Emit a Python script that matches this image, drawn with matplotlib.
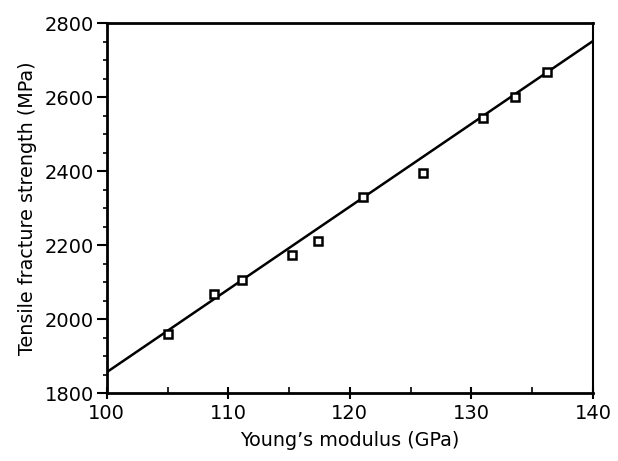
"""Tensile fracture strength vs Young's modulus."""

import matplotlib
matplotlib.use("Agg")
import matplotlib.pyplot as plt
from matplotlib.ticker import MultipleLocator

# measured points
modulus = [105.05, 108.8, 111.15, 115.25, 117.4, 121.1, 126.0, 130.95, 133.6, 136.2]
strength = [1960, 2068, 2105, 2175, 2212, 2330, 2396, 2543, 2600, 2669]

# fitted line end points
fit_x = [100, 140]
fit_y = [1857, 2752]

x_ticks = [100, 110, 120, 130, 140]
y_ticks = [1800, 2000, 2200, 2400, 2600, 2800]


def main() -> None:
    fig = plt.figure(figsize=(6.18, 4.61), dpi=100)
    ax = fig.add_axes([0.1727, 0.1469, 0.7868, 0.8026])

    ax.plot(fit_x, fit_y, color="black", lw=1.8, solid_capstyle="butt")
    ax.plot(modulus, strength, ls="none", marker="s", ms=6, mfc="white",
            mec="black", mew=1.8)

    ax.set_xlim(100, 140)
    ax.set_ylim(1800, 2800)
    ax.set_xticks(x_ticks)
    ax.set_yticks(y_ticks)
    ax.xaxis.set_minor_locator(MultipleLocator(5))
    ax.yaxis.set_minor_locator(MultipleLocator(50))

    ax.tick_params(axis="x", which="major", direction="inout", length=9, width=1.5,
                   labelsize=14, pad=3)
    ax.tick_params(axis="x", which="minor", direction="in", length=4, width=1.2)
    ax.tick_params(axis="y", which="major", direction="out", length=7, width=1.5,
                   labelsize=14, pad=2)
    ax.tick_params(axis="y", which="minor", direction="out", length=3, width=1.2)
    ax.tick_params(top=False, right=False, which="both")

    for side in ("left", "bottom", "top"):
        ax.spines[side].set_linewidth(2.0)
    ax.spines["right"].set_linewidth(1.5)

    ax.set_xlabel("Young\u2019s modulus (GPa)", fontsize=13.8, labelpad=6)
    ax.set_ylabel("Tensile fracture strength (MPa)", fontsize=13.8, labelpad=6)

    fig.savefig("out.png", dpi=100)


if __name__ == "__main__":
    main()
